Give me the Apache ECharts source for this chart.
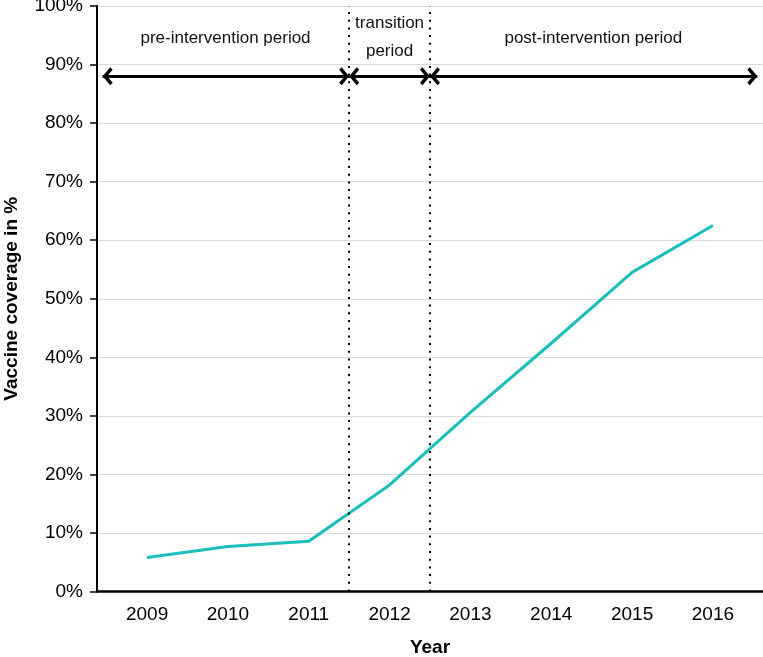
<!DOCTYPE html>
<html>
<head>
<meta charset="utf-8">
<script src="https://cdn.jsdelivr.net/npm/echarts@6/dist/echarts.min.js"></script>
<style>html,body{margin:0;padding:0;background:#fff}#c{width:763px;height:657px}</style>
</head>
<body>
<div id="c"></div>
<script>
const years = [2009, 2010, 2011, 2012, 2013, 2014, 2015, 2016];
const coverage = [5.8, 7.7, 8.6, 18.2, 30.6, 42.4, 54.5, 62.5];
const yTicks = [0, 10, 20, 30, 40, 50, 60, 70, 80, 90, 100];
const periodBounds = [2011.5, 2012.5];
const arrowSpan = [2008.45, 2016.55];
const arrowLevel = 88;
const periodLabels = [
  { text: 'pre-intervention period', x: 2009.97, y: 94.5 },
  { text: 'transition\nperiod', x: 2012.0, y: 94.7 },
  { text: 'post-intervention period', x: 2014.52, y: 94.5 }
];

// chevron whose tip sits at the centre of its bounding box
const chevron = 'path://M0,0 L10,8 L7.2,10.6 L0,4.8 L-7.2,10.6 L-10,8 Z M0,-10.6 L0.001,-10.6 L0,-10.601 Z';
const font = 'Liberation Sans, Arial, sans-serif';

const chart = echarts.init(document.getElementById('c'));
const arrowPts = [arrowSpan[0], periodBounds[0], periodBounds[1], arrowSpan[1]];
const arrowData = [];
for (let i = 0; i < arrowPts.length - 1; i++) {
  arrowData.push([{ coord: [arrowPts[i], arrowLevel] }, { coord: [arrowPts[i + 1], arrowLevel] }]);
}

chart.setOption({
  animation: false,
  textStyle: { fontFamily: font },
  grid: { left: 97, right: 0, top: 6, bottom: 65.5, containLabel: false, outerBoundsMode: 'none' },
  xAxis: {
    type: 'value',
    min: 2008.38,
    max: 2016.62,
    name: 'Year',
    nameLocation: 'middle',
    nameGap: 47,
    nameTextStyle: { fontSize: 19, fontWeight: 'bold', color: '#000', fontFamily: font },
    axisLine: { show: true, onZero: false, lineStyle: { color: '#000', width: 2.5 } },
    axisTick: { show: false },
    splitLine: { show: false },
    axisLabel: {
      customValues: years,
      formatter: v => String(v),
      fontSize: 19, color: '#000', margin: 14, fontFamily: font
    }
  },
  yAxis: {
    type: 'value',
    min: 0, max: 100, interval: 10,
    name: 'Vaccine coverage in %',
    nameLocation: 'middle',
    nameGap: 76,
    nameTextStyle: { fontSize: 19, fontWeight: 'bold', color: '#000', fontFamily: font },
    axisLine: { show: true, lineStyle: { color: '#000', width: 2 } },
    axisTick: { show: true, length: 7, lineStyle: { color: '#000', width: 1.5 } },
    splitLine: { show: true, lineStyle: { color: '#d9d9d9', width: 1.2 } },
    axisLabel: { formatter: v => v + '%', fontSize: 19, color: '#000', margin: 14, fontFamily: font }
  },
  series: [
    {
      type: 'line',
      data: years.map((y, i) => [y, coverage[i]]),
      symbol: 'none',
      lineStyle: { color: '#1abfbd', width: 3 },
      z: 3,
      markLine: {
        silent: true,
        symbol: 'none',
        label: { show: false },
        lineStyle: { color: '#000', type: [2, 5.7], width: 2 },
        data: periodBounds.map(b => ({ xAxis: b }))
      }
    },
    {
      type: 'line',
      data: [],
      markLine: {
        silent: true,
        symbol: [chevron, chevron],
        symbolSize: [18, 20],
        label: { show: false },
        lineStyle: { color: '#000', type: 'solid', width: 3 },
        data: arrowData
      },
      markPoint: {
        silent: true,
        symbol: 'circle',
        symbolSize: 0,
        label: { show: true, position: 'inside', color: '#111', fontSize: 17, lineHeight: 28, fontFamily: font,
          formatter: p => p.name },
        data: periodLabels.map(l => ({ name: l.text, coord: [l.x, l.y] }))
      }
    }
  ]
});
</script>
</body>
</html>
